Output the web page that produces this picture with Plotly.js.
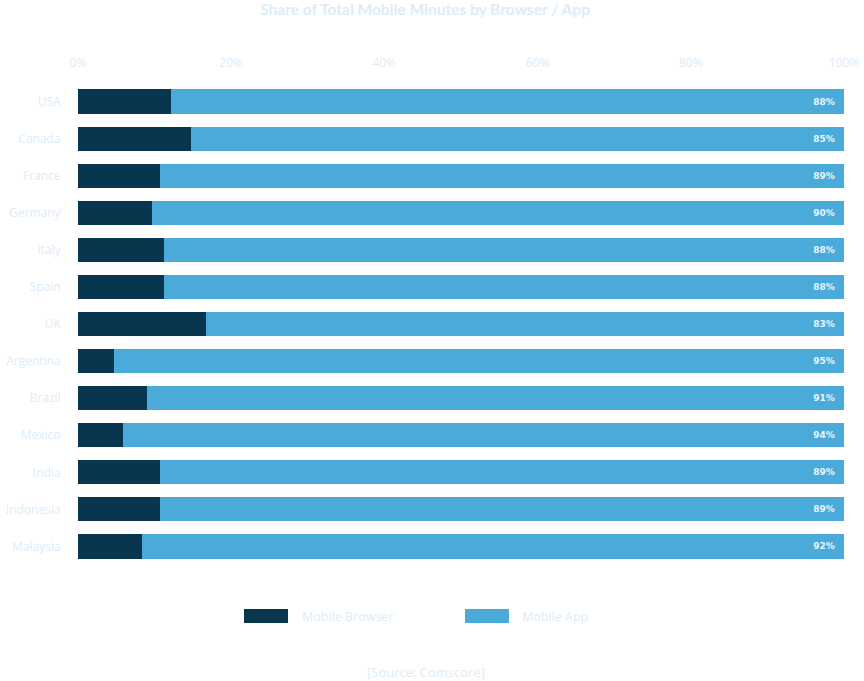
<!DOCTYPE html>
<html>
<head>
<meta charset="utf-8">
<script src="https://cdn.plot.ly/plotly-3.0.1.min.js"></script>
<style>html,body{margin:0;padding:0;background:#fff;}#chart{width:864px;height:681px;}</style>
</head>
<body>
<div id="chart"></div>
<script>
const countries = ["USA","Canada","France","Germany","Italy","Spain","UK","Argentina","Brazil","Mexico","India","Indonesia","Malaysia"];
const browserShare = [12.1, 14.8, 10.7, 9.7, 11.2, 11.2, 16.7, 4.7, 9.0, 5.9, 10.7, 10.7, 8.4];
const appShare = [87.9, 85.2, 89.3, 90.3, 88.8, 88.8, 83.3, 95.3, 91.0, 94.1, 89.3, 89.3, 91.6];
const appLabels = ["88%","85%","89%","90%","88%","88%","83%","95%","91%","94%","89%","89%","92%"];
const seriesNames = ["Mobile Browser","Mobile App"];
const xTickVals = [0,20,40,60,80,100];
const xTickText = ["0%","20%","40%","60%","80%","100%"];

const dark = "#08364f", light = "#4aabdb", pale = "#dcecf8";
const fontFam = "'Open Sans', Lato, sans-serif";

const traces = [
  {type:"bar", orientation:"h", name:seriesNames[0], y:countries, x:browserShare,
   marker:{color:dark}, hoverinfo:"x+y"},
  {type:"bar", orientation:"h", name:seriesNames[1], y:countries, x:appShare,
   marker:{color:light}, text:appLabels, texttemplate:"%{text}&nbsp;&nbsp;", textposition:"inside", insidetextanchor:"end",
   textfont:{color:"#eaf5fc", size:9, family:"'DejaVu Sans', sans-serif", weight:"bold"},
   constraintext:"none", hoverinfo:"x+y"}
];

const layout = {
  width:864, height:681,
  barmode:"stack", bargap:0.35,
  showlegend:false,
  paper_bgcolor:"#fff", plot_bgcolor:"#fff",
  margin:{l:78, r:20, t:83, b:116},
  font:{family:fontFam, color:pale, size:12},
  title:{text:"<b>Share of Total Mobile Minutes by Browser / App</b>", x:0.492, xanchor:"center", y:1 - 10/681, yanchor:"middle",
         font:{size:15.5, color:pale, family:"Lato, sans-serif"}},
  xaxis:{side:"top", range:[0,100], tickvals:xTickVals, ticktext:xTickText, showgrid:false, zeroline:false,
         showline:false, ticks:"outside", ticklen:10, tickcolor:"rgba(0,0,0,0)", tickfont:{size:12, color:pale}, fixedrange:true},
  yaxis:{categoryorder:"array", categoryarray:countries, autorange:"reversed", showgrid:false, zeroline:false, showline:false,
         ticks:"outside", ticklen:14, tickcolor:"rgba(0,0,0,0)", tickfont:{size:12, color:pale}, fixedrange:true},
  shapes:[
    {type:"rect", xref:"paper", yref:"paper", x0:(244-78)/766, x1:(288-78)/766, y0:-(609-565)/482, y1:-(623-565)/482, fillcolor:dark, line:{width:0}},
    {type:"rect", xref:"paper", yref:"paper", x0:(465-78)/766, x1:(509-78)/766, y0:-(609-565)/482, y1:-(623-565)/482, fillcolor:light, line:{width:0}}
  ],
  annotations:[
    {xref:"paper", yref:"paper", x:(300-78)/766, y:-(616-565)/482, xanchor:"left", yanchor:"middle", text:seriesNames[0], showarrow:false, font:{size:12.5, color:pale}},
    {xref:"paper", yref:"paper", x:(520-78)/766, y:-(616-565)/482, xanchor:"left", yanchor:"middle", text:seriesNames[1], showarrow:false, font:{size:12.5, color:pale}},
    {xref:"paper", yref:"paper", x:(426-78)/766, y:-(672-565)/482, xanchor:"center", yanchor:"middle", text:"[Source: Comscore]", showarrow:false, font:{size:13, color:pale}}
  ]
};

Plotly.newPlot("chart", traces, layout, {displayModeBar:false, staticPlot:true});
</script>
</body>
</html>
